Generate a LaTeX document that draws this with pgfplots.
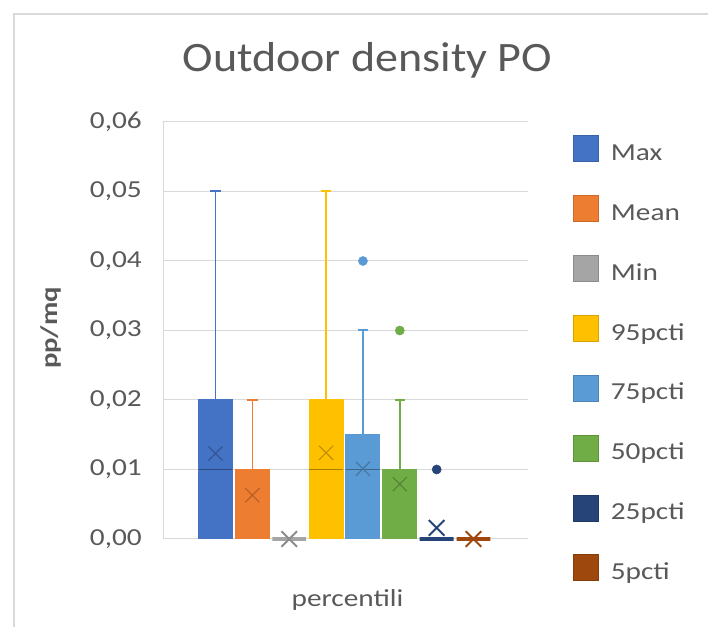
\documentclass[border=0pt]{standalone}
\usepackage{pgfplots}
\pgfplotsset{compat=1.18}
\usepackage{fontspec}
\setmainfont{Carlito}[FakeStretch=1.2]
\newfontfamily\titlefont{Carlito}[FakeStretch=1.1]

\definecolor{txt}{HTML}{595959}
\definecolor{gridc}{HTML}{D9D9D9}
\definecolor{cMax}{HTML}{4472C4}
\definecolor{cMean}{HTML}{ED7D31}
\definecolor{cMin}{HTML}{A5A5A5}
\definecolor{cNF}{HTML}{FFC000}
\definecolor{cSF}{HTML}{5B9BD5}
\definecolor{cFifty}{HTML}{70AD47}
\definecolor{cTF}{HTML}{264478}
\definecolor{cFive}{HTML}{9E480E}

% box from 0 up to Q3: #1 position, #2 Q3, #3 colour, #4 outline width
\newcommand{\statbox}[4]{%
  \addplot[ybar, bar width=0.92, bar shift=0pt, draw=#3, fill=#3, line width=#4]
    coordinates {(#1,#2)};}
% whisker from Q3 to the top value with a short cap: #1 position, #2 Q3, #3 top, #4 colour
\newcommand{\whisker}[4]{%
  \pgfmathsetmacro{\capl}{#1-0.14}\pgfmathsetmacro{\capr}{#1+0.14}%
  \addplot[draw=#4, line width=1.4bp] coordinates {(#1,#2) (#1,#3)};
  \addplot[draw=#4, line width=2bp] coordinates {(\capl,#3) (\capr,#3)};}
% median line across a box: #1 position, #2 value, #3 colour
\newcommand{\medline}[3]{%
  \pgfmathsetmacro{\medl}{#1-0.455}\pgfmathsetmacro{\medr}{#1+0.455}%
  \addplot[draw=#3!65!black, line width=1.3bp] coordinates {(\medl,#2) (\medr,#2)};}
% mean cross: #1 position, #2 value, #3 colour, #4 size, #5 width
\newcommand{\meanx}[5]{%
  \addplot[only marks, mark=x, mark size=#4, mark options={draw=#3, line width=#5}]
    coordinates {(#1,#2)};}
% outlier dot
\newcommand{\outlier}[3]{%
  \addplot[only marks, mark=*, mark size=4.6bp, mark options={draw=#3, fill=#3, line width=0.4bp}]
    coordinates {(#1,#2)};}

\begin{document}
\begin{tikzpicture}[x=1bp, y=1bp]
\useasboundingbox (0,0) rectangle (708,627);
\draw[gray!30, line width=1.5bp] (14,0) -- (14,613) -- (708,613);

\node[text=txt, font=\titlefont\fontsize{42}{48}\selectfont, anchor=base] at (367.5,555) {Outdoor density PO};
\node[text=txt, font=\fontsize{24}{28}\selectfont\bfseries, rotate=90] at (50.5,299) {pp/mq};
\node[text=txt, font=\fontsize{24.5}{28}\selectfont, anchor=base] at (347.5,20) {percentili};

\begin{axis}[
  at={(163bp,88bp)}, anchor=south west,
  scale only axis, width=365bp, height=417bp,
  xmin=-1.424, xmax=8.478, ymin=0, ymax=0.06,
  xtick=\empty,
  ytick={0,0.01,0.02,0.03,0.04,0.05,0.06},
  scaled y ticks=false,
  ymajorgrids, grid style={draw=gridc, line width=1bp},
  axis x line*=bottom, axis y line*=left,
  axis line style={draw=gridc, line width=1bp},
  major tick length=0pt,
  clip=false,
  yticklabel style={text=txt, font=\fontsize{24.5}{28}\selectfont,
    inner xsep=0pt, xshift=-21bp},
  /pgf/number format/.cd, fixed, fixed zerofill, precision=2, use comma,
  assume math mode=true,
  /pgfplots/.cd,
  legend image code/.code={\draw[#1] (0bp,-6bp) rectangle (25bp,20bp);},
  legend style={at={(1.124,0.969)}, anchor=north west, draw=none, fill=none,
    inner sep=0pt, row sep=29.7bp,
    nodes={text=txt, font=\fontsize{24.5}{28}\selectfont, inner sep=0pt,
      text height=15bp, text depth=5bp},
    /tikz/every odd column/.append style={column sep=12bp}},
  legend cell align=left,
]
\addlegendimage{draw=cMax!85!black, fill=cMax}
\addlegendentry{Max}
\addlegendimage{draw=cMean!85!black, fill=cMean}
\addlegendentry{Mean}
\addlegendimage{draw=cMin!85!black, fill=cMin}
\addlegendentry{Min}
\addlegendimage{draw=cNF!85!black, fill=cNF}
\addlegendentry{95pcti}
\addlegendimage{draw=cSF!85!black, fill=cSF}
\addlegendentry{75pcti}
\addlegendimage{draw=cFifty!85!black, fill=cFifty}
\addlegendentry{50pcti}
\addlegendimage{draw=cTF!85!black, fill=cTF}
\addlegendentry{25pcti}
\addlegendimage{draw=cFive!85!black, fill=cFive}
\addlegendentry{5pcti}

% whiskers: position, upper quartile, top value
\whisker{0}{0.02}{0.05}{cMax}
\whisker{1}{0.01}{0.02}{cMean}
\whisker{3}{0.02}{0.05}{cNF}
\whisker{4}{0.015}{0.03}{cSF}
\whisker{5}{0.01}{0.02}{cFifty}

% boxes from 0 to the upper quartile
\statbox{0}{0.02}{cMax}{1bp}
\statbox{1}{0.01}{cMean}{1bp}
\statbox{2}{0}{cMin}{3.5bp}
\statbox{3}{0.02}{cNF}{1bp}
\statbox{4}{0.015}{cSF}{1bp}
\statbox{5}{0.01}{cFifty}{1bp}
\statbox{6}{0}{cTF}{3.5bp}
\statbox{7}{0}{cFive}{3.5bp}

% medians
\medline{0}{0.01}{cMax}
\medline{3}{0.01}{cNF}
\medline{4}{0.01}{cSF}

% outliers
\outlier{4}{0.04}{cSF}
\outlier{5}{0.03}{cFifty}
\outlier{6}{0.01}{cTF}

% means
\meanx{0}{0.0123}{cMax!75!black}{10bp}{1.1bp}
\meanx{1}{0.0063}{cMean!75!black}{10bp}{1.1bp}
\meanx{2}{0}{cMin!85!black}{11bp}{2bp}
\meanx{3}{0.0124}{cNF!75!black}{10bp}{1.1bp}
\meanx{4}{0.0101}{cSF!75!black}{10bp}{1.1bp}
\meanx{5}{0.0079}{cFifty!75!black}{10bp}{1.1bp}
\meanx{6}{0.0016}{cTF}{11bp}{2bp}
\meanx{7}{0}{cFive}{11bp}{2bp}
\end{axis}
\end{tikzpicture}
\end{document}
